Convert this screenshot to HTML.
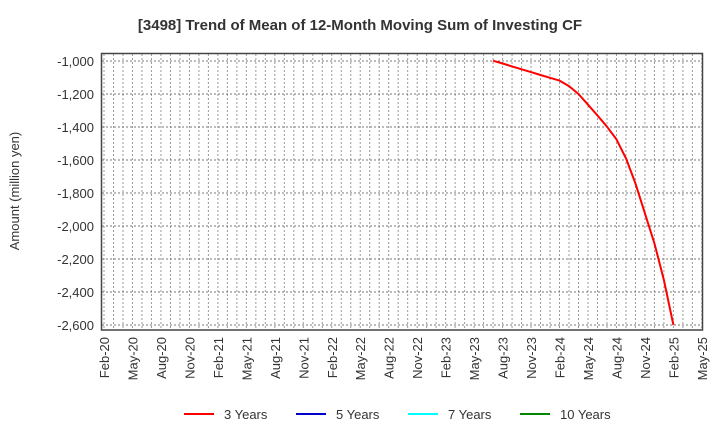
<!DOCTYPE html>
<html><head><meta charset="utf-8"><style>
body{margin:0;background:#fff;font-family:"Liberation Sans",sans-serif;}
</style></head><body>
<svg id="chart" width="720" height="440" xmlns="http://www.w3.org/2000/svg" font-family="Liberation Sans, sans-serif">
<text x="360" y="30" text-anchor="middle" font-size="15" font-weight="bold" fill="#333">[3498]  Trend of Mean of 12-Month Moving Sum of Investing CF</text>
<text transform="translate(19,191) rotate(-90)" text-anchor="middle" font-size="13" fill="#333">Amount (million yen)</text>
<g id="grid"></g><g id="yt"></g><g id="xt"></g><g id="series"></g>
<rect x="101.5" y="53.5" width="601" height="276.5" fill="none" stroke="#444" stroke-width="1.5"/>
<g id="legend" font-size="13" fill="#333">
<line x1="184" y1="414" x2="214" y2="414" stroke="#f00" stroke-width="2"/><text x="224" y="419">3 Years</text>
<line x1="296" y1="414" x2="326" y2="414" stroke="#00c" stroke-width="2"/><text x="336" y="419">5 Years</text>
<line x1="408" y1="414" x2="438" y2="414" stroke="#0ff" stroke-width="2"/><text x="448" y="419">7 Years</text>
<line x1="520" y1="414" x2="550" y2="414" stroke="#080" stroke-width="2"/><text x="560" y="419">10 Years</text>
</g>
</svg>
<script>
const yTicks=[-1000,-1200,-1400,-1600,-1800,-2000,-2200,-2400,-2600];
const xLabels=["Feb-20","May-20","Aug-20","Nov-20","Feb-21","May-21","Aug-21","Nov-21","Feb-22","May-22","Aug-22","Nov-22","Feb-23","May-23","Aug-23","Nov-23","Feb-24","May-24","Aug-24","Nov-24","Feb-25","May-25"];
const seriesStartMonth=41;
const series3y=[-998,-1015,-1033,-1050,-1067,-1085,-1102,-1119,-1152,-1200,-1265,-1330,-1398,-1475,-1590,-1741,-1923,-2105,-2327,-2600];
const NS="http://www.w3.org/2000/svg";
const X=m=>104+9.49*m;
const Y=v=>61+(-1000-v)*0.165;
function mk(t,a,p){const e=document.createElementNS(NS,t);for(const k in a)e.setAttribute(k,a[k]);p.appendChild(e);return e;}
const grid=document.getElementById('grid'),yt=document.getElementById('yt'),xt=document.getElementById('xt'),sg=document.getElementById('series');
for(let m=0;m<=63;m++){const x=X(m);if(x>702)break;
const l=mk('line',{x1:x,x2:x,y1:54,y2:330,stroke:'#999','stroke-dasharray':'2,2','stroke-width':1},grid);

}
yTicks.forEach(v=>{const y=Y(v);
const l=mk('line',{x1:102,x2:702,y1:y,y2:y,stroke:'#777','stroke-dasharray':'2,2','stroke-width':1},grid);


const t=mk('text',{x:94,y:y+5,'text-anchor':'end','font-size':13,fill:'#333'},yt);t.textContent=v.toLocaleString('en-US');

});
xLabels.forEach((s,i)=>{const x=X(i*3);
const t=mk('text',{transform:`translate(${x+5},337) rotate(-90)`,'text-anchor':'end','font-size':13,fill:'#333'},xt);t.textContent=s;

});
const pts=series3y.map((v,i)=>X(seriesStartMonth+i).toFixed(1)+','+Y(v).toFixed(1)).join(' ');
const pl=mk('polyline',{points:pts,fill:'none',stroke:'#f00','stroke-width':2,'stroke-linejoin':'round'},sg);


</script>
</body></html>
